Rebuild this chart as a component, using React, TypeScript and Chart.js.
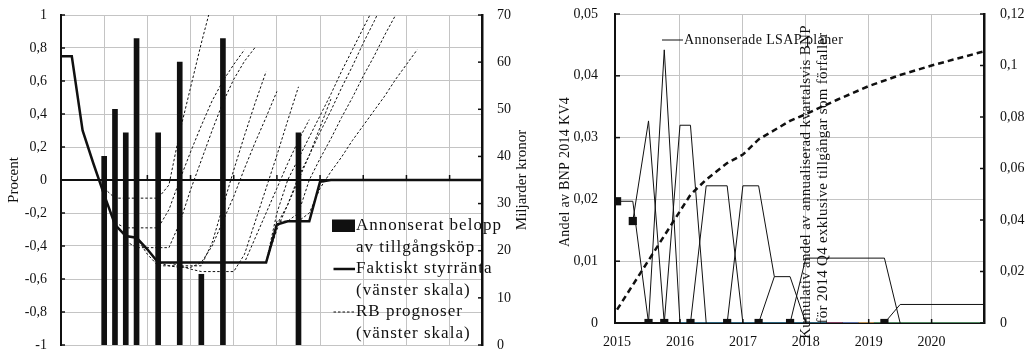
import React, { useEffect, useRef } from 'react';
import { Chart, registerables } from 'chart.js';

Chart.register(...registerables);

const SERIF = '"Liberation Serif", "Times New Roman", serif';
const INK = '#101010';
const GRID = '#c4c4c4';

// ---------------- Left panel (quarter index: 0 = 2014 Q1 ... 39 = 2023 Q4) ----------------
const yearGridQuarters = [4, 8, 12, 16, 20, 24, 28, 32, 36];
const procentTicks = [-1, -0.8, -0.6, -0.4, -0.2, 0, 0.2, 0.4, 0.6, 0.8, 1];
const miljarderTicks = [0, 10, 20, 30, 40, 50, 60, 70];

const repoRate = [
  0.75, 0.75, 0.3, 0.1, -0.09, -0.27, -0.34, -0.35, -0.42, -0.5,
  -0.5, -0.5, -0.5, -0.5, -0.5, -0.5, -0.5, -0.5, -0.5, -0.5,
  -0.27, -0.25, -0.25, -0.25, -0.01, 0, 0, 0, 0, 0,
  0, 0, 0, 0, 0, 0, 0, 0, 0, 0,
];

const purchaseQuarters = [4, 5, 6, 7, 9, 11, 13, 15, 22];
const purchaseAmounts = [40, 50, 45, 65, 45, 60, 15, 65, 45];

const rbForecast01 = [[4, -0.05], [5, -0.11], [6, -0.11], [7, -0.11], [8, -0.11], [9, -0.11], [10, -0.03], [11, 0.29], [12, 0.56], [13, 0.83], [14, 1.08], [15, 1.3], [16, 1.5]];
const rbForecast02 = [[5, -0.26], [6, -0.29], [7, -0.29], [8, -0.29], [9, -0.29], [10, -0.18], [11, 0.0], [12, 0.17], [13, 0.33], [14, 0.48], [15, 0.6], [16, 0.7], [17, 0.79]];
const rbForecast03 = [[6, -0.37], [7, -0.41], [8, -0.41], [9, -0.41], [10, -0.41], [11, -0.26], [12, -0.06], [13, 0.12], [14, 0.3], [15, 0.47], [16, 0.61], [17, 0.72], [18, 0.805]];
const rbForecast04 = [[7, -0.35], [8, -0.45], [9, -0.52], [10, -0.52], [11, -0.52], [12, -0.52], [13, -0.52], [14, -0.38], [15, -0.16], [16, 0.06], [17, 0.27], [18, 0.47], [19, 0.657]];
const rbForecast05 = [[8, -0.42], [9, -0.5], [10, -0.52], [11, -0.53], [12, -0.53], [13, -0.5], [14, -0.4], [15, -0.25], [16, -0.1], [17, 0.07], [18, 0.23], [19, 0.38], [20, 0.537]];
const rbForecast06 = [[10, -0.5], [11, -0.52], [12, -0.54], [13, -0.555], [14, -0.555], [15, -0.555], [16, -0.555], [17, -0.45], [18, -0.25], [19, -0.05], [20, 0.15], [21, 0.36], [22, 0.565]];
const rbForecast07 = [[11, -0.5], [12, -0.5], [13, -0.5], [14, -0.5], [15, -0.5], [16, -0.5], [17, -0.5], [18, -0.35], [19, -0.2], [20, -0.05], [21, 0.1], [22, 0.24], [23, 0.366]];
const rbForecast08 = [[13, -0.5], [14, -0.5], [15, -0.5], [16, -0.5], [17, -0.5], [18, -0.5], [19, -0.5], [20, -0.3], [21, -0.15], [22, 0.0], [23, 0.15], [24, 0.32], [25, 0.49]];
const rbForecast09 = [[17, -0.5], [18, -0.5], [19, -0.5], [20, -0.2], [21, 0.0], [22, 0.13], [23, 0.26], [24, 0.39], [25, 0.52], [26, 0.66], [27, 0.79], [28, 0.92], [29, 1.05]];
const rbForecast10 = [[18, -0.5], [19, -0.5], [20, -0.27], [21, -0.15], [22, 0.02], [23, 0.15], [24, 0.29], [25, 0.42], [26, 0.56], [27, 0.69], [28, 0.83], [29, 0.96], [30, 1.1]];
const rbForecast11 = [[19, -0.5], [20, -0.25], [21, -0.25], [22, -0.2], [23, 0.0], [24, 0.13], [25, 0.25], [26, 0.38], [27, 0.5], [28, 0.63], [29, 0.75], [30, 0.88], [31, 1.0]];
const rbForecast12 = [[21, -0.25], [22, -0.25], [23, -0.2], [24, -0.05], [25, 0.05], [26, 0.14], [27, 0.24], [28, 0.33], [29, 0.42], [30, 0.51], [31, 0.61], [32, 0.7], [33, 0.79]];
const rbForecasts = [
  rbForecast01, rbForecast02, rbForecast03, rbForecast04, rbForecast05, rbForecast06,
  rbForecast07, rbForecast08, rbForecast09, rbForecast10, rbForecast11, rbForecast12,
];

const leftLegendLines = [
  'Annonserat belopp',
  'av tillgångsköp',
  'Faktiskt styrränta',
  '(vänster skala)',
  'RB prognoser',
  '(vänster skala)',
];

// ---------------- Right panel (dates as YYYY-MM) ----------------
const yearTicks = [2015, 2016, 2017, 2018, 2019, 2020];
const andelTicks = [0, 0.01, 0.02, 0.03, 0.04, 0.05];
const kumulativTicks = [0, 0.02, 0.04, 0.06, 0.08, 0.1, 0.12];

const lsapPlan1 = [['2015-01', 0.0197], ['2015-04', 0.0197], ['2015-07', 0]];
const lsapPlan2 = [['2015-04', 0.0165], ['2015-07', 0.0327], ['2015-10', 0]];
const lsapPlan3 = [['2015-07', 0], ['2015-10', 0.0442], ['2016-01', 0]];
const lsapPlan4 = [['2015-10', 0], ['2016-01', 0.032], ['2016-03', 0.032], ['2016-06', 0]];
const lsapPlan5 = [['2016-03', 0], ['2016-06', 0.0222], ['2016-10', 0.0222], ['2017-01', 0]];
const lsapPlan6 = [['2016-10', 0], ['2017-01', 0.0222], ['2017-04', 0.0222], ['2017-07', 0.0075]];
const lsapPlan7 = [['2017-04', 0], ['2017-07', 0.0075], ['2017-10', 0.0075], ['2018-01', 0]];
const lsapPlan8 = [['2017-10', 0], ['2018-01', 0.0105], ['2019-04', 0.0105], ['2019-07', 0]];
const lsapPlan9 = [['2019-04', 0], ['2019-07', 0.003], ['2020-11', 0.003]];
const lsapPlans = [lsapPlan1, lsapPlan2, lsapPlan3, lsapPlan4, lsapPlan5, lsapPlan6, lsapPlan7, lsapPlan8, lsapPlan9];

const cumulativeShare = [
  ['2015-01', 0.0052], ['2016-03', 0.0498], ['2016-06', 0.0557], ['2016-10', 0.0621],
  ['2017-01', 0.0654], ['2017-04', 0.0713], ['2017-10', 0.0785], ['2018-01', 0.0811],
  ['2018-07', 0.0867], ['2019-01', 0.092], ['2019-07', 0.0963], ['2020-01', 0.1],
  ['2020-11', 0.1055],
];

const zeroRun1 = [['2016-01', 0], ['2018-05', 0]];
const zeroRun2 = [['2018-05', 0], ['2018-08', 0]];
const zeroRun3 = [['2018-08', 0], ['2018-11', 0]];
const zeroRun4 = [['2018-11', 0], ['2019-02', 0]];
const zeroRun5 = [['2019-02', 0], ['2020-11', 0]];
const zeroRuns = [zeroRun1, zeroRun2, zeroRun3, zeroRun4, zeroRun5];
const zeroRunColors = ['#2b6079', '#7b3f60', '#5a6fa3', '#b48d52', '#4f8660'];

const rightLegendText = 'Annonserade LSAP planer';
const leftAxisTitleRight = 'Andel av BNP 2014 KV4';
const overlayLine1 = 'Kumulativ andel av annualiserad kvartalsvis BNP';
const overlayLine2 = 'för 2014 Q4 exklusive tillgångar som förfaller';

// ---------------- helpers ----------------
const toYear = (d: string) => {
  const [y, m] = d.split('-').map(Number);
  return y + (m - 1) / 12;
};
const fmt = (v: number) => String(parseFloat(Number(v).toFixed(4))).replace('.', ',');
const isZero = (v: any) => typeof v === 'number' && Math.abs(v) < 1e-9;

function seg(ctx: CanvasRenderingContext2D, x1: number, y1: number, x2: number, y2: number) {
  ctx.beginPath();
  ctx.moveTo(x1, y1);
  ctx.lineTo(x2, y2);
  ctx.stroke();
}

function rotatedText(ctx: CanvasRenderingContext2D, text: string, cx: number, cy: number, font: string, spacing = 0) {
  ctx.save();
  ctx.translate(cx, cy);
  ctx.rotate(-Math.PI / 2);
  ctx.font = font;
  (ctx as any).letterSpacing = spacing + 'px';
  ctx.textAlign = 'center';
  ctx.textBaseline = 'middle';
  ctx.fillStyle = INK;
  ctx.fillText(text, 0, 0);
  ctx.restore();
}

const noPad = (s: any) => { s.paddingTop = 0; s.paddingBottom = 0; s.paddingLeft = 0; s.paddingRight = 0; };

const leftDecor = {
  id: 'leftDecor',
  afterDraw(chart: any) {
    const { ctx, chartArea: a, scales } = chart;
    const x = scales.x, y = scales.y, y1 = scales.y1;
    ctx.save();
    ctx.strokeStyle = INK;
    ctx.lineWidth = 1.5;
    y.ticks.forEach((t: any) => { const py = y.getPixelForValue(t.value); seg(ctx, a.left, py, a.left + 4, py); });
    y1.ticks.forEach((t: any) => { const py = y1.getPixelForValue(t.value); seg(ctx, a.right - 4, py, a.right, py); });
    const y0 = y.getPixelForValue(0);
    x.ticks.forEach((t: any) => { const px = x.getPixelForValue(t.value); seg(ctx, px, y0, px, y0 - 5); });

    // legend
    const lx = a.left + 271;
    const tx = a.left + 295;
    const rows = [226, 247.5, 269, 290.5, 312, 333.5];
    ctx.fillStyle = INK;
    ctx.fillRect(lx, rows[0] - 6.5, 23, 12.5);
    ctx.lineWidth = 2.5;
    seg(ctx, lx + 1.5, rows[2], lx + 23, rows[2]);
    ctx.lineWidth = 1;
    ctx.setLineDash([2.5, 2]);
    seg(ctx, lx + 1.5, rows[4], lx + 23, rows[4]);
    ctx.setLineDash([]);
    ctx.font = `17px ${SERIF}`;
    ctx.letterSpacing = '1px';
    ctx.textBaseline = 'middle';
    ctx.textAlign = 'left';
    leftLegendLines.forEach((s, i) => ctx.fillText(s, tx, rows[i]));
    ctx.letterSpacing = '0px';
    ctx.restore();

    rotatedText(ctx, 'Procent', 14, 180, `15px ${SERIF}`);
    rotatedText(ctx, 'Miljarder kronor', 522, 180, `15px ${SERIF}`);
  },
};

const rightDecor = {
  id: 'rightDecor',
  afterDraw(chart: any) {
    const { ctx, chartArea: a, scales } = chart;
    const x = scales.x, y = scales.y, y1 = scales.y1;
    ctx.save();
    ctx.strokeStyle = INK;
    ctx.lineWidth = 1.5;
    y.ticks.forEach((t: any) => { const py = y.getPixelForValue(t.value); seg(ctx, a.left, py, a.left + 5, py); });
    y1.ticks.forEach((t: any) => { const py = y1.getPixelForValue(t.value); seg(ctx, a.right - 4, py, a.right, py); });
    x.ticks.forEach((t: any) => {
      if (t.value <= 2015) return;
      const px = x.getPixelForValue(t.value);
      seg(ctx, px, a.bottom, px, a.bottom - 4);
    });
    // legend
    ctx.lineWidth = 1;
    seg(ctx, a.left + 47, 40, a.left + 68, 40);
    ctx.fillStyle = INK;
    ctx.font = `14px ${SERIF}`;
    ctx.letterSpacing = '0.4px';
    ctx.textBaseline = 'middle';
    ctx.textAlign = 'left';
    ctx.fillText(rightLegendText, a.left + 69, 40);
    ctx.letterSpacing = '0px';
    ctx.restore();

    rotatedText(ctx, leftAxisTitleRight, 20, 172, `14px ${SERIF}`, 0.3);
    rotatedText(ctx, overlayLine1, a.left + 191, 182, `15px ${SERIF}`, 0.3);
    rotatedText(ctx, overlayLine2, a.left + 208, 178, `15px ${SERIF}`, 0.3);
  },
};

const tickFont = { family: SERIF, size: 14 };

function leftConfig(): any {
  return {
    type: 'line',
    data: {
      datasets: [
        {
          type: 'line', label: 'Faktiskt styrränta',
          data: repoRate.map((v, i) => ({ x: i, y: v })),
          borderColor: INK, borderWidth: 2.5, pointRadius: 0, yAxisID: 'y',
        },
        {
          type: 'bar', label: 'Annonserat belopp av tillgångsköp',
          data: purchaseQuarters.map((q, i) => ({ x: q, y: purchaseAmounts[i] })),
          backgroundColor: INK, barThickness: 5, yAxisID: 'y1',
        },
        ...rbForecasts.map((f, i) => ({
          type: 'line', label: 'RB prognos ' + (i + 1),
          data: f.map(([q, v]) => ({ x: q, y: v })),
          borderColor: INK, borderWidth: 1, borderDash: [2.5, 2], pointRadius: 0, yAxisID: 'y',
        })),
      ],
    },
    options: {
      responsive: false, animation: false, devicePixelRatio: 1,
      layout: { padding: { top: 15, left: 0, right: 0, bottom: 0 } },
      plugins: { legend: { display: false }, tooltip: { enabled: false } },
      scales: {
        x: {
          type: 'linear', min: 0, max: 39, offset: false,
          afterBuildTicks: (s: any) => { s.ticks = yearGridQuarters.map((v) => ({ value: v })); },
          afterFit: (s: any) => { s.height = 11; noPad(s); },
          ticks: { display: false },
          grid: { color: GRID, drawTicks: false, lineWidth: 1, offset: false },
          border: { display: false },
        },
        y: {
          type: 'linear', position: 'left', min: -1, max: 1,
          afterBuildTicks: (s: any) => { s.ticks = procentTicks.map((v) => ({ value: v })); },
          afterFit: (s: any) => { s.width = 61; noPad(s); },
          ticks: { font: tickFont, color: INK, padding: 14, callback: (v: any) => fmt(v) },
          grid: {
            drawTicks: false,
            color: (c: any) => (isZero(c.tick && c.tick.value) ? INK : GRID),
            lineWidth: (c: any) => (isZero(c.tick && c.tick.value) ? 2 : 1),
          },
          border: { color: INK, width: 2 },
        },
        y1: {
          type: 'linear', position: 'right', min: 0, max: 70,
          afterBuildTicks: (s: any) => { s.ticks = miljarderTicks.map((v) => ({ value: v })); },
          afterFit: (s: any) => { s.width = 63; noPad(s); },
          ticks: { font: tickFont, color: INK, padding: 15, callback: (v: any) => String(v) },
          grid: { display: false, drawTicks: false },
          border: { color: INK, width: 2.5 },
        },
      },
    },
    plugins: [leftDecor],
  };
}

function rightConfig(): any {
  const pts = (arr: any[]) => arr.map(([d, v]) => ({ x: toYear(d), y: v }));
  return {
    type: 'line',
    data: {
      datasets: [
        ...lsapPlans.map((p, i) => ({
          type: 'line', label: i === 0 ? 'Annonserade LSAP planer' : 'LSAP plan ' + (i + 1),
          data: pts(p), borderColor: INK, borderWidth: 1,
          pointRadius: (c: any) => (c.dataIndex === 0 ? 5.8 : 0),
          pointStyle: 'rect', pointBackgroundColor: INK, pointBorderWidth: 0, yAxisID: 'y',
        })),
        ...zeroRuns.map((r, i) => ({
          type: 'line', label: 'Övrigt ' + (i + 1), data: pts(r),
          borderColor: zeroRunColors[i], borderWidth: 2, pointRadius: 0, yAxisID: 'y',
        })),
        {
          type: 'line', label: 'Kumulativ andel', data: pts(cumulativeShare),
          borderColor: INK, borderWidth: 2.5, borderDash: [6, 4], pointRadius: 0, yAxisID: 'y1',
        },
      ],
    },
    options: {
      responsive: false, animation: false, devicePixelRatio: 1,
      layout: { padding: { top: 14, left: 0, right: 0, bottom: 0 } },
      plugins: { legend: { display: false }, tooltip: { enabled: false } },
      scales: {
        x: {
          type: 'linear', min: 2014.967, max: 2020.833, offset: false,
          afterBuildTicks: (s: any) => { s.ticks = yearTicks.map((v) => ({ value: v })); },
          afterFit: (s: any) => { s.height = 33; noPad(s); },
          ticks: { font: tickFont, color: INK, padding: 11, maxRotation: 0, autoSkip: false, callback: (v: any) => String(v) },
          grid: { drawTicks: false, color: (c: any) => (c.tick && c.tick.value > 2015 ? GRID : 'rgba(0,0,0,0)') },
          border: { color: INK, width: 2 },
        },
        y: {
          type: 'linear', position: 'left', min: 0, max: 0.05,
          afterBuildTicks: (s: any) => { s.ticks = andelTicks.map((v) => ({ value: v })); },
          afterFit: (s: any) => { s.width = 70; noPad(s); },
          ticks: { font: tickFont, color: INK, padding: 17, callback: (v: any) => fmt(v) },
          grid: { drawTicks: false, color: (c: any) => (isZero(c.tick && c.tick.value) ? 'rgba(0,0,0,0)' : GRID) },
          border: { color: INK, width: 2 },
        },
        y1: {
          type: 'linear', position: 'right', min: 0, max: 0.12,
          afterBuildTicks: (s: any) => { s.ticks = kumulativTicks.map((v) => ({ value: v })); },
          afterFit: (s: any) => { s.width = 51; noPad(s); },
          ticks: { font: tickFont, color: INK, padding: 16, callback: (v: any) => fmt(v) },
          grid: { display: false, drawTicks: false },
          border: { color: INK, width: 2.5 },
        },
      },
    },
    plugins: [rightDecor],
  };
}

export default function App() {
  const leftRef = useRef<HTMLCanvasElement>(null);
  const rightRef = useRef<HTMLCanvasElement>(null);
  useEffect(() => {
    document.body.style.margin = '0';
    const c1 = new Chart(leftRef.current as HTMLCanvasElement, leftConfig());
    const c2 = new Chart(rightRef.current as HTMLCanvasElement, rightConfig());
    return () => { c1.destroy(); c2.destroy(); };
  }, []);
  return (
    <div style={{ position: 'relative', width: 1035, height: 356, background: '#ffffff' }}>
      <canvas ref={leftRef} width={545} height={356} style={{ position: 'absolute', left: 0, top: 0, width: 545, height: 356 }} />
      <canvas ref={rightRef} width={490} height={356} style={{ position: 'absolute', left: 545, top: 0, width: 490, height: 356 }} />
    </div>
  );
}
